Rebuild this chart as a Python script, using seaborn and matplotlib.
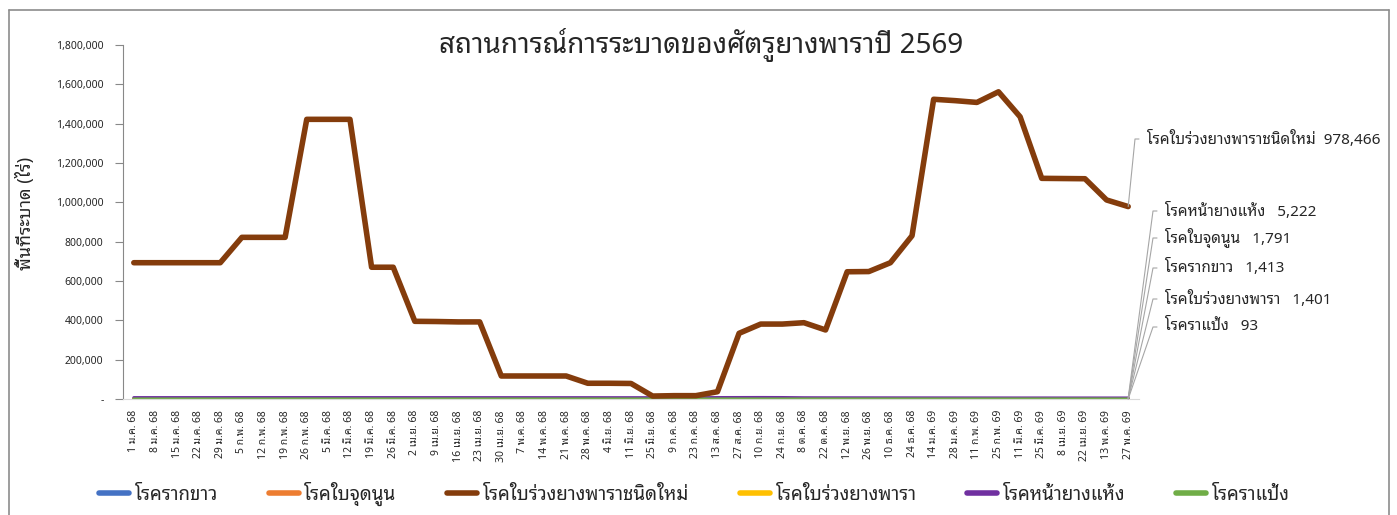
import matplotlib
matplotlib.use("Agg")
import matplotlib.pyplot as plt
import matplotlib.font_manager as fm
from matplotlib.lines import Line2D
from matplotlib.ticker import FuncFormatter
import seaborn as sns
from fontTools.ttLib import TTFont

dates = [
    "1 ม.ค. 68", "8 ม.ค. 68", "15 ม.ค. 68", "22 ม.ค. 68", "29 ม.ค. 68",
    "5 ก.พ. 68", "12 ก.พ. 68", "19 ก.พ. 68", "26 ก.พ. 68", "5 มี.ค. 68",
    "12 มี.ค. 68", "19 มี.ค. 68", "26 มี.ค. 68", "2 เม.ย. 68", "9 เม.ย. 68",
    "16 เม.ย. 68", "23 เม.ย. 68", "30 เม.ย. 68", "7 พ.ค. 68", "14 พ.ค. 68",
    "21 พ.ค. 68", "28 พ.ค. 68", "4 มิ.ย. 68", "11 มิ.ย. 68", "25 มิ.ย. 68",
    "9 ก.ค. 68", "23 ก.ค. 68", "13 ส.ค. 68", "27 ส.ค. 68", "10 ก.ย. 68",
    "24 ก.ย. 68", "8 ต.ค. 68", "22 ต.ค. 68", "12 พ.ย. 68", "26 พ.ย. 68",
    "10 ธ.ค. 68", "24 ธ.ค. 68", "14 ม.ค. 69", "28 ม.ค. 69", "11 ก.พ. 69",
    "25 ก.พ. 69", "11 มี.ค. 69", "25 มี.ค. 69", "8 เม.ย. 69", "22 เม.ย. 69",
    "13 พ.ค. 69", "27 พ.ค. 69",
]

white_root = [
    1380, 1380, 1380, 1380, 1380, 1390, 1390, 1390, 1390, 1400, 1400, 1400,
    1400, 1400, 1400, 1400, 1400, 1400, 1400, 1400, 1400, 1400, 1400, 1400,
    1405, 1405, 1405, 1405, 1405, 1405, 1405, 1405, 1410, 1410, 1410, 1410,
    1410, 1410, 1410, 1410, 1410, 1413, 1413, 1413, 1413, 1413, 1413,
]
leaf_spot = [
    1700, 1700, 1700, 1700, 1700, 1720, 1720, 1720, 1720, 1740, 1740, 1740,
    1740, 1750, 1750, 1750, 1750, 1760, 1760, 1760, 1760, 1770, 1770, 1770,
    1770, 1775, 1775, 1775, 1780, 1780, 1780, 1785, 1785, 1785, 1790, 1790,
    1790, 1790, 1790, 1791, 1791, 1791, 1791, 1791, 1791, 1791, 1791,
]
new_leaf_fall = [
    693000, 693000, 693000, 693000, 693000, 822000, 822000, 822000, 1422000,
    1422000, 1422000, 670000, 670000, 395000, 394000, 392000, 392000, 117000,
    117000, 117000, 117000, 80000, 80000, 79000, 15000, 17000, 17000, 37000,
    334000, 381000, 381000, 388000, 351000, 647000, 648000, 693000, 830000,
    1524000, 1517000, 1508000, 1562000, 1435000, 1122000, 1121000, 1120000,
    1012000, 978466,
]
leaf_fall = [
    1300, 1300, 1300, 1300, 1300, 1320, 1320, 1320, 1320, 1330, 1330, 1330,
    1330, 1340, 1340, 1340, 1340, 1350, 1350, 1350, 1350, 1360, 1360, 1360,
    1360, 1370, 1370, 1370, 1370, 1380, 1380, 1380, 1380, 1390, 1390, 1390,
    1390, 1395, 1395, 1395, 1398, 1398, 1400, 1400, 1401, 1401, 1401,
]
dry_bark = [
    7200, 7200, 7200, 7200, 7200, 7300, 7300, 7300, 7300, 7300, 7300, 7200,
    7200, 7100, 7100, 7100, 7000, 7000, 7000, 6900, 6900, 6900, 6800, 6800,
    6800, 6700, 6700, 7400, 7600, 7800, 7500, 6500, 6300, 6200, 6100, 6000,
    5900, 5800, 5700, 5600, 5500, 5400, 5400, 5300, 5300, 5222, 5222,
]
powdery = [
    90, 90, 90, 90, 90, 90, 90, 90, 90, 90, 90, 90,
    91, 91, 91, 91, 91, 91, 91, 91, 91, 92, 92, 92,
    92, 92, 92, 92, 92, 92, 92, 92, 93, 93, 93, 93,
    93, 93, 93, 93, 93, 93, 93, 93, 93, 93, 93,
]

series_names = [
    "โรครากขาว", "โรคใบจุดนูน", "โรคใบร่วงยางพาราชนิดใหม่",
    "โรคใบร่วงยางพารา", "โรคหน้ายางแห้ง", "โรคราแป้ง",
]
series_values = [white_root, leaf_spot, new_leaf_fall, leaf_fall, dry_bark, powdery]
series_colors = ["#4472C4", "#ED7D31", "#843C0C", "#FFC000", "#7030A0", "#70AD47"]

# end labels, top to bottom, with their text rows (pixels from top)
label_order = [2, 4, 1, 0, 3, 5]
label_rows = [139, 211, 238, 268, 299, 327]
label_gaps = ["  ", "   ", "   ", "   ", "   ", "   "]


def find_thai_font():
    preferred = ["Tahoma", "Leelawadee UI", "Noto Sans Thai Looped", "Noto Looped Thai",
                 "Noto Sans Thai", "Noto Sans Thai UI", "Loma", "Garuda", "Sarabun",
                 "Waree", "Umpush", "Kinnari", "Norasi", "Noto Serif Thai", "TlwgTypo"]
    found = {}
    for f in fm.fontManager.ttflist:
        try:
            cmap = TTFont(f.fname, fontNumber=0, lazy=True).getBestCmap()
        except Exception:
            continue
        if cmap and 0x0E01 in cmap and 0x0E49 in cmap:
            found.setdefault(f.name, f.fname)
    for name in preferred:
        if name in found:
            return name
    return sorted(found)[0] if found else "DejaVu Sans"


sns.set_style("white")
thai_font = find_thai_font()
plt.rcParams["font.family"] = [thai_font, "DejaVu Sans"]

fig = plt.figure(figsize=(13.97, 5.15), dpi=100)
W, H = 1397, 515
ax = fig.add_axes([123 / W, 1 - 399 / H, (1139 - 123) / W, (399 - 45) / H])

idx = list(range(len(dates)))
for name, vals, col in zip(series_names, series_values, series_colors):
    lw = 4 if name == "โรคใบร่วงยางพาราชนิดใหม่" else 2.2
    sns.lineplot(x=idx, y=vals, color=col, linewidth=lw, ax=ax, legend=False,
                 zorder=3 if lw > 3 else 2)

ax.set_xlim(-0.5, len(dates) - 0.5)
ax.set_ylim(0, 1800000)
ax.set_yticks(range(0, 1800001, 200000))
ax.yaxis.set_major_formatter(FuncFormatter(lambda v, p: "-" if v == 0 else f"{int(v):,}"))
ax.set_xticks(idx)
ax.set_xticklabels(dates, rotation=90, fontsize=7.5)
ax.tick_params(axis="y", labelsize=7.5, length=6, width=0.8, color="#888888",
               direction="out", left=True, pad=8)
ax.tick_params(axis="x", length=0, pad=8)
for s in ["top", "right"]:
    ax.spines[s].set_visible(False)
ax.spines["left"].set_color("#888888")
ax.spines["bottom"].set_color("#D9D9D9")
ax.set_xlabel("")
ax.set_ylabel("พื้นที่ระบาด (ไร่)", fontsize=13, fontweight="bold")
ax.yaxis.set_label_coords(-0.0866, 0.525)

fig.text(701 / W, 1 - 45 / H, "สถานการณ์การระบาดของศัตรูยางพาราปี 2569",
         ha="center", va="center", fontsize=20)

# end-of-line value labels with hooked leader lines
last = len(dates) - 1
for k, row, gap in zip(label_order, label_rows, label_gaps):
    name, vals = series_names[k], series_values[k]
    tx = 1147 if k == 2 else 1165
    fig.text(tx / W, 1 - row / H, f"{name}{gap}{vals[-1]:,}",
             ha="left", va="center", fontsize=11)
    px, py = ax.transData.transform((last, vals[-1]))
    xs = [px, tx - 12, tx - 8]
    ys = [py, H - row, H - row]
    fig.add_artist(Line2D([x / W for x in xs], [y / H for y in ys],
                          transform=fig.transFigure, color="#A6A6A6", lw=0.8))

handles = [Line2D([], [], color=c, lw=4, solid_capstyle="round") for c in series_colors]
fig.legend(handles, series_names, loc="center", bbox_to_anchor=(0.497, 1 - 494 / H),
           ncol=6, frameon=False, fontsize=13.5, columnspacing=2.7, handlelength=1.6,
           handletextpad=0.3)

# chart border
for xs, ys in [([9, 9], [0, 505]), ([9, 1389], [505, 505]), ([1389, 1389], [505, 0])]:
    fig.add_artist(Line2D([x / W for x in xs], [y / H for y in ys],
                          transform=fig.transFigure, color="#8C8C8C", lw=1.2))

fig.savefig("out.png", dpi=100)
